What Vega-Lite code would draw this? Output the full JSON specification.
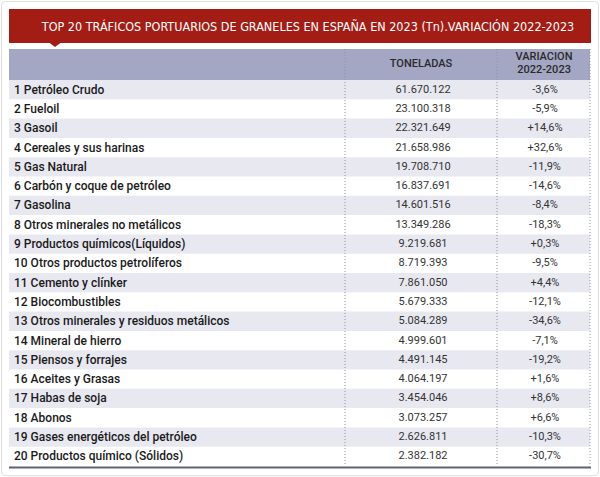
{
  "$schema": "https://vega.github.io/schema/vega-lite/v6.json",
  "width": 600,
  "height": 477,
  "padding": 0,
  "autosize": {"type": "none"},
  "background": "white",
  "config": {"view": {"stroke": null}, "axis": {"disable": true}},
  "datasets": {
    "one": [{}],
    "rows": [
      {"rank": 1, "name": "1 Petróleo Crudo", "tons": "61.670.122", "var": "-3,6%"},
      {"rank": 2, "name": "2 Fueloil", "tons": "23.100.318", "var": "-5,9%"},
      {"rank": 3, "name": "3 Gasoil", "tons": "22.321.649", "var": "+14,6%"},
      {"rank": 4, "name": "4 Cereales y sus harinas", "tons": "21.658.986", "var": "+32,6%"},
      {"rank": 5, "name": "5 Gas Natural", "tons": "19.708.710", "var": "-11,9%"},
      {"rank": 6, "name": "6 Carbón y coque de petróleo", "tons": "16.837.691", "var": "-14,6%"},
      {"rank": 7, "name": "7 Gasolina", "tons": "14.601.516", "var": "-8,4%"},
      {"rank": 8, "name": "8 Otros minerales no metálicos", "tons": "13.349.286", "var": "-18,3%"},
      {"rank": 9, "name": "9 Productos químicos(Líquidos)", "tons": "9.219.681", "var": "+0,3%"},
      {"rank": 10, "name": "10 Otros productos petrolíferos", "tons": "8.719.393", "var": "-9,5%"},
      {"rank": 11, "name": "11 Cemento y clínker", "tons": "7.861.050", "var": "+4,4%"},
      {"rank": 12, "name": "12 Biocombustibles", "tons": "5.679.333", "var": "-12,1%"},
      {"rank": 13, "name": "13 Otros minerales y residuos metálicos", "tons": "5.084.289", "var": "-34,6%"},
      {"rank": 14, "name": "14 Mineral de hierro", "tons": "4.999.601", "var": "-7,1%"},
      {"rank": 15, "name": "15 Piensos y forrajes", "tons": "4.491.145", "var": "-19,2%"},
      {"rank": 16, "name": "16 Aceites y Grasas", "tons": "4.064.197", "var": "+1,6%"},
      {"rank": 17, "name": "17 Habas de soja", "tons": "3.454.046", "var": "+8,6%"},
      {"rank": 18, "name": "18 Abonos", "tons": "3.073.257", "var": "+6,6%"},
      {"rank": 19, "name": "19 Gases energéticos del petróleo", "tons": "2.626.811", "var": "-10,3%"},
      {"rank": 20, "name": "20 Productos químico (Sólidos)", "tons": "2.382.182", "var": "-30,7%"}
    ]
  },
  "data": {"name": "one"},
  "encoding": {
    "x": {"type": "quantitative", "scale": {"domain": [0, 600]}, "axis": null},
    "y": {"type": "quantitative", "scale": {"domain": [-3.645, 21.07], "reverse": true}, "axis": null}
  },
  "layer": [
    {
      "mark": {"type": "rect", "fill": null, "stroke": "#dcdcdc", "strokeWidth": 1, "cornerRadius": 4},
      "encoding": {"x": {"datum": 1.5}, "x2": {"datum": 598.5}, "y": {"datum": -3.57}, "y2": {"datum": 21.0}}
    },
    {
      "mark": {"type": "rect", "fill": "#a31d15"},
      "encoding": {"x": {"datum": 9}, "x2": {"datum": 591}, "y": {"datum": -3.18}, "y2": {"datum": -1.417}}
    },
    {
      "mark": {"type": "point", "shape": "M-1,0L1,0L0,0.75Z", "filled": true, "fill": "#a31d15", "opacity": 1, "size": 144},
      "encoding": {"x": {"datum": 55}, "y": {"datum": -1.44}}
    },
    {
      "mark": {"type": "rect", "fill": "#a4a7c4"},
      "encoding": {"x": {"datum": 9}, "x2": {"datum": 590}, "y": {"datum": -1.106}, "y2": {"datum": 0.5}}
    },
    {
      "data": {"name": "rows"},
      "transform": [{"filter": "datum.rank % 2 == 1"}],
      "mark": {"type": "tick", "orient": "horizontal", "color": "#e8e8f1", "opacity": 1, "size": 581, "thickness": 19.3},
      "encoding": {"x": {"datum": 299.5}, "y": {"field": "rank", "type": "quantitative"}}
    },
    {
      "mark": {"type": "rule", "stroke": "#8c90a8", "strokeWidth": 1, "strokeDash": [1, 2]},
      "encoding": {"x": {"datum": 345}, "y": {"datum": -1.106}, "y2": {"datum": 20.5}}
    },
    {
      "mark": {"type": "rule", "stroke": "#8c90a8", "strokeWidth": 1, "strokeDash": [1, 2]},
      "encoding": {"x": {"datum": 497}, "y": {"datum": -1.106}, "y2": {"datum": 20.5}}
    },
    {
      "mark": {"type": "rule", "stroke": "#8c90a8", "strokeWidth": 1, "strokeDash": [1, 2]},
      "encoding": {"x": {"datum": 590}, "y": {"datum": -1.106}, "y2": {"datum": 20.5}}
    },
    {
      "mark": {"type": "rule", "stroke": "#5b6478", "strokeWidth": 2},
      "encoding": {"x": {"datum": 9}, "x2": {"datum": 591}, "y": {"datum": 20.58}}
    },
    {
      "mark": {"type": "text", "text": "TOP 20 TRÁFICOS PORTUARIOS DE GRANELES EN ESPAÑA EN 2023 (Tn).VARIACIÓN 2022-2023", "color": "white", "font": "DejaVu Sans Condensed", "fontSize": 12.5, "align": "center", "baseline": "middle"},
      "encoding": {"x": {"datum": 308}, "y": {"datum": -2.25}}
    },
    {
      "mark": {"type": "text", "text": "TONELADAS", "color": "#2a2a2a", "font": "Roboto", "fontSize": 11, "fontWeight": 500, "align": "center", "baseline": "middle"},
      "encoding": {"x": {"datum": 421}, "y": {"datum": -0.33}}
    },
    {
      "mark": {"type": "text", "text": ["VARIACION", "2022-2023"], "lineHeight": 13, "color": "#2a2a2a", "font": "Roboto", "fontSize": 11, "fontWeight": 500, "align": "center", "baseline": "middle"},
      "encoding": {"x": {"datum": 544}, "y": {"datum": -0.68}}
    },
    {
      "data": {"name": "rows"},
      "mark": {"type": "text", "color": "#1a1a1a", "font": "Roboto", "fontSize": 12, "fontWeight": 500, "align": "left", "baseline": "middle"},
      "encoding": {"x": {"datum": 14}, "y": {"field": "rank", "type": "quantitative"}, "text": {"field": "name"}}
    },
    {
      "data": {"name": "rows"},
      "mark": {"type": "text", "color": "#333", "font": "Roboto", "fontSize": 11, "align": "center", "baseline": "middle"},
      "encoding": {"x": {"datum": 423}, "y": {"field": "rank", "type": "quantitative"}, "text": {"field": "tons"}}
    },
    {
      "data": {"name": "rows"},
      "mark": {"type": "text", "color": "#333", "font": "Roboto", "fontSize": 11, "align": "center", "baseline": "middle"},
      "encoding": {"x": {"datum": 545}, "y": {"field": "rank", "type": "quantitative"}, "text": {"field": "var"}}
    }
  ]
}
